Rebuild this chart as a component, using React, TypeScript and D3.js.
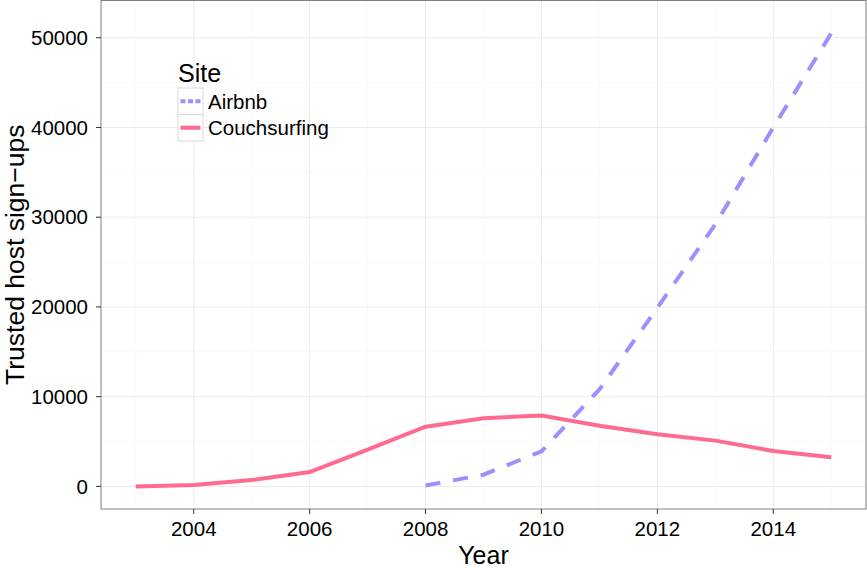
import React from "react";
import * as d3 from "d3";

const years = [2003, 2004, 2005, 2006, 2007, 2008, 2009, 2010, 2011, 2012, 2013, 2014, 2015];
const couchsurfing = [0, 150, 700, 1600, 4100, 6650, 7600, 7900, 6750, 5800, 5100, 3950, 3250];
const airbnbYears = [2008, 2009, 2010, 2011, 2012, 2013, 2014, 2015];
const airbnb = [100, 1300, 3900, 10800, 19900, 29200, 40000, 50500];
const xTicks = [2004, 2006, 2008, 2010, 2012, 2014];
const xMinor = [2003, 2005, 2007, 2009, 2011, 2013, 2015];
const yTicks = [0, 10000, 20000, 30000, 40000, 50000];
const yMinor = [5000, 15000, 25000, 35000, 45000];
const seriesNames = ["Airbnb", "Couchsurfing"];

const W = 867, H = 568;
const L = 101, R = 866, T = 0.5, B = 509;
const AIR = "#9E8FFF";
const CS = "#FF6B8F";
const FONT = "'Liberation Sans', Arial, Helvetica, sans-serif";

export default function App() {
  const x = d3.scaleLinear().domain([2002.4, 2015.6]).range([L, R]);
  const y = d3.scaleLinear().domain([-2520, 54150]).range([B, T]);
  const line = d3.line<[number, number]>().x(d => x(d[0])).y(d => y(d[1]));
  const csPath = line(years.map((yr, i) => [yr, couchsurfing[i]]))!;
  const airPath = line(airbnbYears.map((yr, i) => [yr, airbnb[i]]))!;
  const fmt = d3.format("d");
  return (
    <svg width={W} height={H} style={{ position: "absolute", left: 0, top: 0, background: "#fff" }} fontFamily={FONT}>
      <rect x={L} y={T} width={R - L} height={B - T} fill="#fff" />
      {xMinor.map(v => <line key={"xm" + v} x1={x(v)} x2={x(v)} y1={T} y2={B} stroke="#FAFAFA" strokeWidth={1} />)}
      {yMinor.map(v => <line key={"ym" + v} x1={L} x2={R} y1={y(v)} y2={y(v)} stroke="#FAFAFA" strokeWidth={1} />)}
      {xTicks.map(v => <line key={"xg" + v} x1={x(v)} x2={x(v)} y1={T} y2={B} stroke="#EBEBEB" strokeWidth={1} />)}
      {yTicks.map(v => <line key={"yg" + v} x1={L} x2={R} y1={y(v)} y2={y(v)} stroke="#EBEBEB" strokeWidth={1} />)}
      <path d={airPath} fill="none" stroke={AIR} strokeWidth={4} strokeDasharray="15 13" />
      <path d={csPath} fill="none" stroke={CS} strokeWidth={4} />
      <rect x={L} y={T} width={R - L} height={B - T} fill="none" stroke="#7F7F7F" strokeWidth={1} />
      {xTicks.map(v => (
        <g key={"xt" + v}>
          <line x1={x(v)} x2={x(v)} y1={B} y2={B + 5} stroke="#333" strokeWidth={1} />
          <text x={x(v)} y={536} textAnchor="middle" fontSize={20.5} fill="#000">{v}</text>
        </g>
      ))}
      {yTicks.map(v => (
        <g key={"yt" + v}>
          <line x1={L - 5} x2={L} y1={y(v)} y2={y(v)} stroke="#333" strokeWidth={1} />
          <text x={88} y={y(v)} dy="0.35em" textAnchor="end" fontSize={20.5} fill="#000">{fmt(v)}</text>
        </g>
      ))}
      <text x={(L + R) / 2} y={564} textAnchor="middle" fontSize={25} fill="#000">Year</text>
      <text transform={`translate(23.5,${(T + B) / 2}) rotate(-90)`} textAnchor="middle" fontSize={26.5} fill="#000">Trusted host sign−ups</text>
      <text x={178} y={81.5} fontSize={25} fill="#000">Site</text>
      {seriesNames.map((s, i) => {
        const ky = 88 + i * 26.5;
        return (
          <g key={s}>
            <rect x={178} y={ky} width={25} height={26.5} fill="#fff" stroke="#D9D9D9" strokeWidth={1} />
            <line x1={180.5} x2={200.5} y1={ky + 13.25} y2={ky + 13.25} stroke={i === 0 ? AIR : CS} strokeWidth={4}
              strokeDasharray={i === 0 ? "5 2.5" : undefined} />
            <text x={208} y={ky + 13.25} dy="0.36em" fontSize={20.5} fill="#000">{s}</text>
          </g>
        );
      })}
    </svg>
  );
}
